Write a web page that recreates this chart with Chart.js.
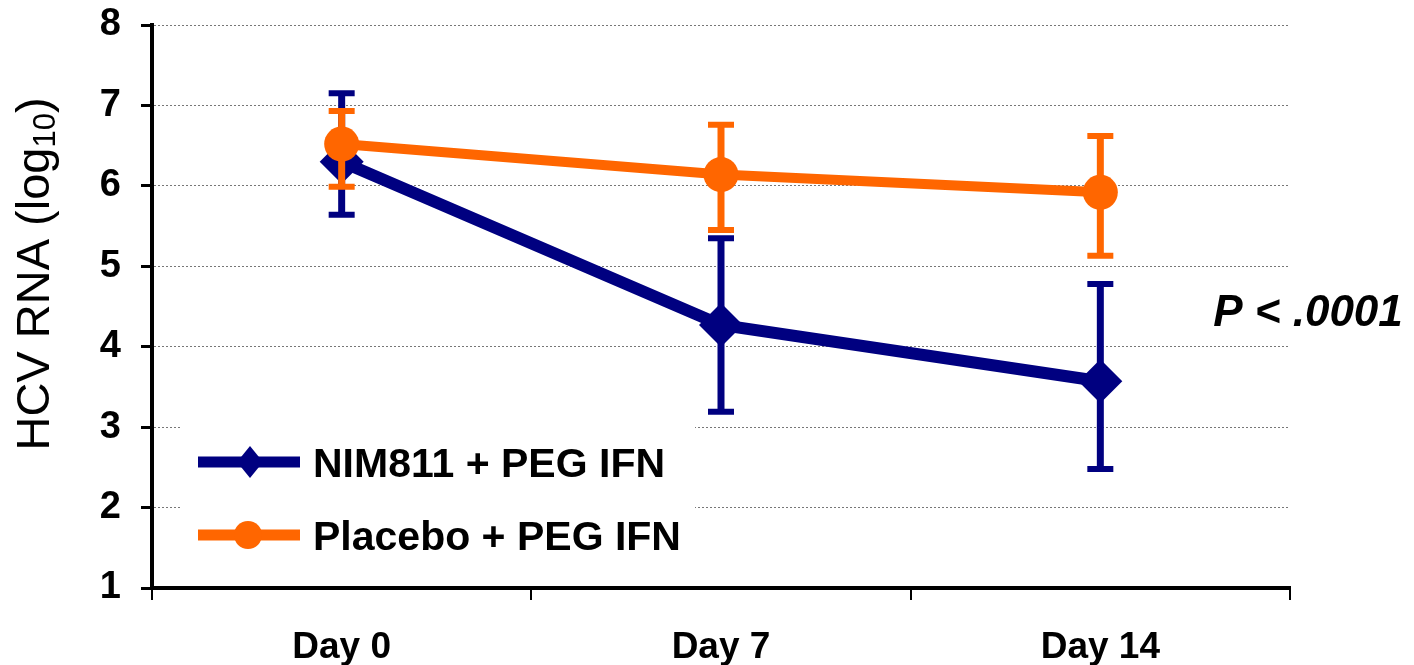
<!DOCTYPE html>
<html>
<head>
<meta charset="utf-8">
<script src="https://cdn.jsdelivr.net/npm/chart.js@4.4.1/dist/chart.umd.min.js"></script>
<style>
  body { margin: 0; background: #fff; }
  #wrap { width: 1414px; height: 665px; }
</style>
</head>
<body>
<div id="wrap"><canvas id="hcvChart" width="1414" height="665"></canvas></div>
<script>
// data
const days = ["Day 0", "Day 7", "Day 14"];
const nimMean = [6.3, 4.27, 3.57];
const nimHigh = [7.15, 5.35, 4.78];
const nimLow = [5.64, 3.19, 2.48];
const placeboMean = [6.52, 6.14, 5.92];
const placeboHigh = [6.93, 6.76, 6.62];
const placeboLow = [5.99, 5.45, 5.13];
const yTicks = [1, 2, 3, 4, 5, 6, 7, 8];

const FONT = "'Liberation Sans', Arial, sans-serif";
const NAVY = "#000080";
const ORANGE = "#ff6600";

// error bars, drawn just before each dataset so the marker sits on top
const errorBars = {
  id: "errorBars",
  beforeDatasetDraw(chart, args) {
    const ds = chart.data.datasets[args.index];
    if (!ds.errHigh) return;
    const ctx = chart.ctx;
    const y = chart.scales.y;
    ctx.save();
    ctx.strokeStyle = ds.borderColor;
    args.meta.data.forEach((pt, i) => {
      const x = pt.x;
      const top = y.getPixelForValue(ds.errHigh[i]);
      const bot = y.getPixelForValue(ds.errLow[i]);
      ctx.lineWidth = 7;
      ctx.beginPath();
      ctx.moveTo(x, top);
      ctx.lineTo(x, bot);
      ctx.stroke();
      ctx.lineWidth = 6;
      ctx.beginPath();
      ctx.moveTo(x - 13, top);
      ctx.lineTo(x + 13, top);
      ctx.moveTo(x - 13, bot);
      ctx.lineTo(x + 13, bot);
      ctx.stroke();
    });
    ctx.restore();
  }
};

// legend box inside the plot, y title with subscript, p value
const extras = {
  id: "extras",
  afterDraw(chart) {
    const ctx = chart.ctx;
    ctx.save();

    // legend
    ctx.fillStyle = "#fff";
    ctx.fillRect(180, 424, 515, 158);
    const legendOrder = [0, 1];
    const rows = [462, 535];
    legendOrder.forEach((idx, r) => {
      const ds = chart.data.datasets[idx];
      const yy = rows[r];
      ctx.strokeStyle = ds.borderColor;
      ctx.lineWidth = 11;
      ctx.beginPath();
      ctx.moveTo(198, yy);
      ctx.lineTo(300, yy);
      ctx.stroke();
      ctx.fillStyle = ds.borderColor;
      ctx.beginPath();
      if (ds.pointStyle === "rectRot") {
        ctx.moveTo(250, yy - 16);
        ctx.lineTo(263, yy);
        ctx.lineTo(250, yy + 16);
        ctx.lineTo(237, yy);
        ctx.closePath();
      } else {
        ctx.arc(248, yy, 14, 0, Math.PI * 2);
      }
      ctx.fill();
      ctx.fillStyle = "#000";
      ctx.font = "bold 41px " + FONT;
      ctx.textAlign = "left";
      ctx.textBaseline = "middle";
      ctx.fillText(ds.label, 313, yy + 4);
    });

    // y axis title: HCV RNA (log10)
    ctx.translate(36, 274);
    ctx.rotate(-Math.PI / 2);
    ctx.fillStyle = "#000";
    ctx.textBaseline = "middle";
    const main = "HCV RNA (log";
    const sub = "10";
    const close = ")";
    ctx.font = "47px " + FONT;
    const w1 = ctx.measureText(main).width;
    const w3 = ctx.measureText(close).width;
    ctx.font = "31px " + FONT;
    const w2 = ctx.measureText(sub).width;
    let x0 = -(w1 + w2 + w3) / 2;
    ctx.textAlign = "left";
    ctx.font = "47px " + FONT;
    ctx.fillText(main, x0, 0);
    ctx.font = "31px " + FONT;
    ctx.fillText(sub, x0 + w1, 10);
    ctx.font = "47px " + FONT;
    ctx.fillText(close, x0 + w1 + w2, 0);
    ctx.setTransform(1, 0, 0, 1, 0, 0);

    // p value
    ctx.font = "italic bold 44px " + FONT;
    ctx.textAlign = "center";
    ctx.textBaseline = "middle";
    ctx.fillText("P < .0001", 1308, 314);
    ctx.restore();
  }
};

const ctx = document.getElementById("hcvChart").getContext("2d");
const hcvChart = new Chart(ctx, {
  type: "line",
  data: {
    labels: days,
    datasets: [
      {
        label: "NIM811 + PEG IFN",
        data: nimMean,
        errHigh: nimHigh,
        errLow: nimLow,
        borderColor: NAVY,
        backgroundColor: NAVY,
        borderWidth: 12,
        pointStyle: "rectRot",
        pointRadius: 22,
        pointBorderWidth: 0,
        tension: 0,
        order: 2,
      },
      {
        label: "Placebo + PEG IFN",
        data: placeboMean,
        errHigh: placeboHigh,
        errLow: placeboLow,
        borderColor: ORANGE,
        backgroundColor: ORANGE,
        borderWidth: 10,
        pointStyle: "circle",
        pointRadius: 17.5,
        pointBorderWidth: 0,
        tension: 0,
        order: 1,
      },
    ],
  },
  options: {
    responsive: false,
    animation: false,
    events: [],
    layout: { padding: { left: 0, right: 124, top: 25, bottom: 0 } },
    plugins: {
      legend: { display: false },
      tooltip: { enabled: false },
    },
    scales: {
      x: {
        offset: true,
        afterFit: (scale) => {
          scale.height = 77;
          scale.paddingLeft = 0;
          scale.paddingRight = 0;
        },
        grid: {
          offset: true,
          drawOnChartArea: false,
          drawTicks: true,
          tickLength: 12,
          color: "#000",
          lineWidth: 2,
        },
        border: { display: true, color: "#000", width: 4 },
        ticks: {
          padding: 26,
          color: "#000",
          font: { family: FONT, size: 37, weight: "bold" },
        },
      },
      y: {
        min: 1,
        max: 8,
        afterFit: (scale) => {
          scale.width = 152;
          scale.paddingTop = 0;
          scale.paddingBottom = 0;
        },
        afterBuildTicks: (scale) => {
          scale.ticks = yTicks.map((v) => ({ value: v }));
        },
        grid: {
          color: "#777",
          lineWidth: 1,
          drawTicks: true,
          tickLength: 11,
          tickColor: "#000",
          tickWidth: 3,
          tickBorderDash: [],
        },
        border: { display: true, color: "#000", width: 4, dash: [2, 2] },
        ticks: {
          padding: 20,
          color: "#000",
          font: { family: FONT, size: 38, weight: "bold" },
        },
      },
    },
  },
  plugins: [errorBars, extras],
});
</script>
</body>
</html>
